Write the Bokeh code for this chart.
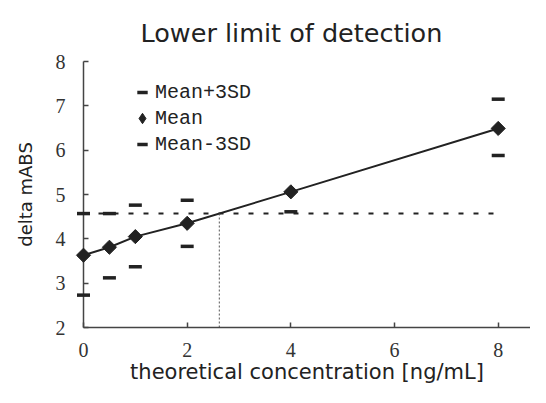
import numpy as np
from bokeh.plotting import figure
from bokeh.models import Range1d, FixedTicker, Legend, LegendItem
from bokeh.embed import file_html
from bokeh.resources import INLINE

# ---- data ----
conc = [0, 0.5, 1, 2, 4, 8]
mean_abs = [3.63, 3.81, 4.05, 4.35, 5.06, 6.49]
upper_abs = [4.57, 4.57, 4.76, 4.87, float("nan"), 7.15]
lower_abs = [2.73, 3.12, 3.37, 3.83, 4.61, 5.88]
x_ticks = [0, 2, 4, 6, 8]
y_ticks = [2, 3, 4, 5, 6, 7, 8]
series_labels = ["Mean+3SD", "Mean", "Mean-3SD"]
title_text = "Lower limit of detection"

# cutoff = blank mean + 3SD; LLOD where the mean line crosses it
cutoff = upper_abs[0]
m = np.array(mean_abs)
c = np.array(conc)
i = int(np.argmax(m > cutoff))
x_llod = c[i - 1] + (cutoff - m[i - 1]) * (c[i] - c[i - 1]) / (m[i] - m[i - 1])

INK = "#222222"

p = figure(width=530, height=387, output_backend="svg", toolbar_location=None,
           x_range=Range1d(0, 8.623), y_range=Range1d(y_ticks[0], y_ticks[-1]),
           min_border_left=83, min_border_right=0, min_border_top=61,
           min_border_bottom=60)
p.outline_line_color = None
p.xgrid.visible = False
p.ygrid.visible = False

p.title.text = title_text
p.title.align = "left"
p.title.text_font = "DejaVu Sans"
p.title.text_font_size = "25.5px"
p.title.text_font_style = "normal"
p.title.text_color = INK
p.title.offset = 57
p.title.standoff = 28

for ax in (p.xaxis[0], p.yaxis[0]):
    ax.major_tick_in = 5
    ax.major_tick_out = 0
    ax.minor_tick_line_color = None
    ax.axis_line_color = "#444444"
    ax.axis_line_width = 1.5
    ax.major_tick_line_color = "#444444"
    ax.major_tick_line_width = 1.5
    ax.major_label_text_font = "Liberation Serif"
    ax.major_label_text_font_size = "20px"
    ax.major_label_text_color = "#333333"
    ax.axis_label_text_font = "DejaVu Sans"
    ax.axis_label_text_font_style = "normal"
    ax.axis_label_text_color = INK

p.xaxis.ticker = FixedTicker(ticks=x_ticks)
p.yaxis.ticker = FixedTicker(ticks=y_ticks)
p.xaxis.axis_label = "theoretical concentration [ng/mL]"
p.xaxis.axis_label_text_font_size = "21px"
p.xaxis.major_label_standoff = 15
p.xaxis.axis_label_standoff = 0
p.yaxis.axis_label = "delta mABS"
p.yaxis.axis_label_text_font_size = "18px"
p.yaxis.major_label_standoff = 18
p.yaxis.axis_label_standoff = 17

# mean line
p.line(conc, mean_abs, line_color=INK, line_width=2)
# cutoff (dashed) line across the data range
p.line([conc[0], conc[-1]], [cutoff, cutoff], line_color=INK, line_width=2,
       line_dash="5 10")
# vertical dotted line at the LLOD
p.segment(x0=[x_llod], y0=[y_ticks[0]], x1=[x_llod], y1=[cutoff],
          line_color="#555555", line_width=1, line_dash="2 2")

# diamond key for the legend (hidden under the plotted means)
r_mean_key = p.scatter(conc, mean_abs, marker="diamond", size=10,
                       fill_color=INK, line_color=INK)
r_up = p.scatter(conc, upper_abs, marker="dash", size=13, line_width=3.5,
                 line_color=INK, level="overlay")
r_mean = p.scatter(conc, mean_abs, marker="square", angle=np.pi / 4, size=10,
                   fill_color=INK, line_color=INK, level="overlay")
r_low = p.scatter(conc, lower_abs, marker="dash", size=13, line_width=3.5,
                  line_color=INK, level="overlay")

legend = Legend(items=[LegendItem(label=series_labels[0], renderers=[r_up]),
                       LegendItem(label=series_labels[1], renderers=[r_mean_key]),
                       LegendItem(label=series_labels[2], renderers=[r_low])],
                location=(46, 170), padding=0, spacing=0,
                glyph_width=26, glyph_height=26, label_height=26,
                label_standoff=0, border_line_color=None,
                background_fill_alpha=0,
                label_text_font="Liberation Mono", label_text_font_size="20px",
                label_text_color=INK, label_text_baseline="middle")
p.add_layout(legend)

open("out.html", "w").write(file_html(p, INLINE))
